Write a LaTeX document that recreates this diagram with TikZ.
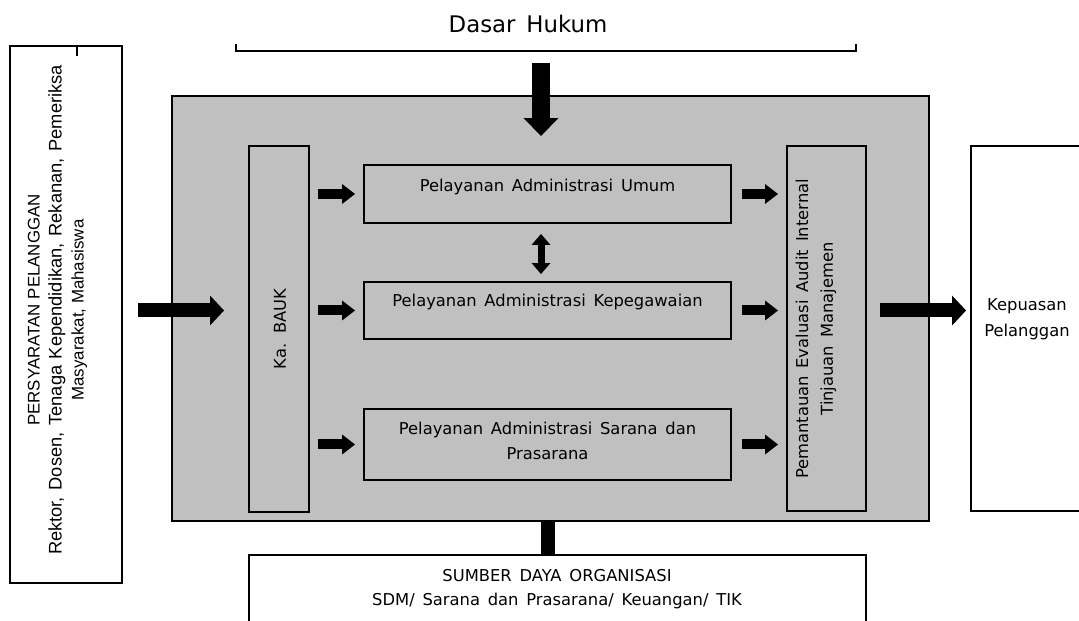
\documentclass[tikz,border=0pt]{standalone}
\usepackage{fontspec}
\setmainfont{DejaVu Sans}[WordSpace=1.5]
\newfontfamily\arialfont{Liberation Sans}
\usetikzlibrary{arrows.meta,positioning,calc}
\definecolor{frameGray}{HTML}{C0C0C0}
\tikzset{
  plainBox/.style={draw=black, line width=1.6pt, fill=white, inner sep=0pt, outer sep=0pt},
  grayBox/.style={plainBox, fill=frameGray},
  boxText/.style={font=\fontsize{9.3}{14}\selectfont, align=center, inner sep=1pt},
  sideText/.style={font=\arialfont\fontsize{9.6}{12.5}\selectfont, align=center, inner sep=1pt},
  blockArrow/.style={line width=0.28cm, -{Triangle[length=0.28cm, width=0.6cm, line width=0pt]}},
  downArrow/.style={line width=0.36cm, -{Triangle[length=0.36cm, width=0.7cm, line width=0pt]}},
  smallArrow/.style={line width=0.2cm, -{Triangle[length=0.26cm, width=0.4cm, line width=0pt]}},
  pairArrow/.style={line width=0.14cm, {Triangle[length=0.22cm, width=0.38cm, line width=0pt]}-{Triangle[length=0.22cm, width=0.38cm, line width=0pt]}}
}
\begin{document}
\begin{tikzpicture}[x=0.02cm, y=-0.02cm]
  \useasboundingbox (0,0) rectangle (1079,621);
  \clip (0,0) rectangle (1079,621);
  % dasar hukum
  \node[font=\fontsize{13}{15}\selectfont, inner sep=1pt] (hukum) at (528,24) {Dasar Hukum};
  \draw[line width=1.2pt] (236,44) |- (856,51) -- (856,44);
  \coordinate (hukumBase) at (541,51);
  % frame and boxes
  \node[grayBox, minimum width=15.14cm, minimum height=8.5cm] (core) at (550.5,308.5) {};
  \node[plainBox, minimum width=2.24cm, minimum height=10.74cm] (syarat) at (66,314.5) {};
  \draw[line width=1.2pt] (77,46) -- (77,56);
  \node[sideText, rotate=90] (syaratText) at (57.5,310) {PERSYARATAN PELANGGAN\\{\fontsize{10.4}{12.5}\selectfont\makebox[9.8cm][s]{Rektor, Dosen, Tenaga Kependidikan, Rekanan, Pemeriksa}}\\Masyarakat, Mahasiswa};
  \node[grayBox, minimum width=1.2cm, minimum height=7.32cm] (baak) at (279,329) {};
  \node[boxText, rotate=90] (baakText) at (280,329) {Ka. BAUK};
  \node[grayBox, minimum width=7.34cm, minimum height=1.16cm] (svc1) at (547.5,194) {};
  \node[boxText] (svc1Text) at (547.5,187) {Pelayanan Administrasi Umum};
  \node[grayBox, minimum width=7.34cm, minimum height=1.14cm] (svc2) at (547.5,310.5) {};
  \node[boxText] (svc2Text) at (547.5,302) {Pelayanan Administrasi Kepegawaian};
  \node[grayBox, minimum width=7.34cm, minimum height=1.42cm] (svc3) at (547.5,444.5) {};
  \node[boxText] (svc3Text) at (547.5,441) {Pelayanan Administrasi Sarana dan\\Prasarana};
  \node[grayBox, minimum width=1.58cm, minimum height=7.3cm] (monitor) at (826.5,328.5) {};
  \node[boxText, rotate=90] (monitorText) at (816,329) {Pemantauan Evaluasi Audit Internal\\Tinjauan Manajemen};
  \node[plainBox, minimum width=2.6cm, minimum height=7.3cm] (puas) at (1036,328.5) {};
  \node[boxText, font=\fontsize{9.3}{14.7}\selectfont] (puasText) at (1027,319) {Kepuasan\\Pelanggan};
  \node[plainBox, minimum width=12.34cm, minimum height=1.8cm] (sumber) at (557.5,600) {};
  \node[boxText] (sumberText) at (557,589) {SUMBER DAYA ORGANISASI\\SDM/ Sarana dan Prasarana/ Keuangan/ TIK};
  % arrows
  \draw[downArrow, shorten <=0.24cm, shorten >=0.58cm] (hukumBase) -- (hukumBase |- svc1.north);
  \draw[blockArrow, shorten <=0.32cm, shorten >=0.5cm] (syarat.east |- svc2) -- (baak.west |- svc2);
  \draw[blockArrow, shorten <=0.28cm, shorten >=0.1cm] (monitor.east |- svc2) -- (puas.west |- svc2);
  \foreach \s in {svc1,svc2,svc3}{
    \draw[smallArrow, shorten <=0.18cm, shorten >=0.18cm] (baak.east |- \s) -- (\s.west);
    \draw[smallArrow, shorten <=0.22cm, shorten >=0.18cm] (\s.east) -- (monitor.west |- \s);
  }
  \draw[pairArrow, shorten <=0.22cm, shorten >=0.16cm] (svc1.south -| hukumBase) -- (svc2.north -| hukumBase);
  \draw[line width=0.28cm] (core.south -| svc1) -- (sumber.north -| svc1);
\end{tikzpicture}
\end{document}
